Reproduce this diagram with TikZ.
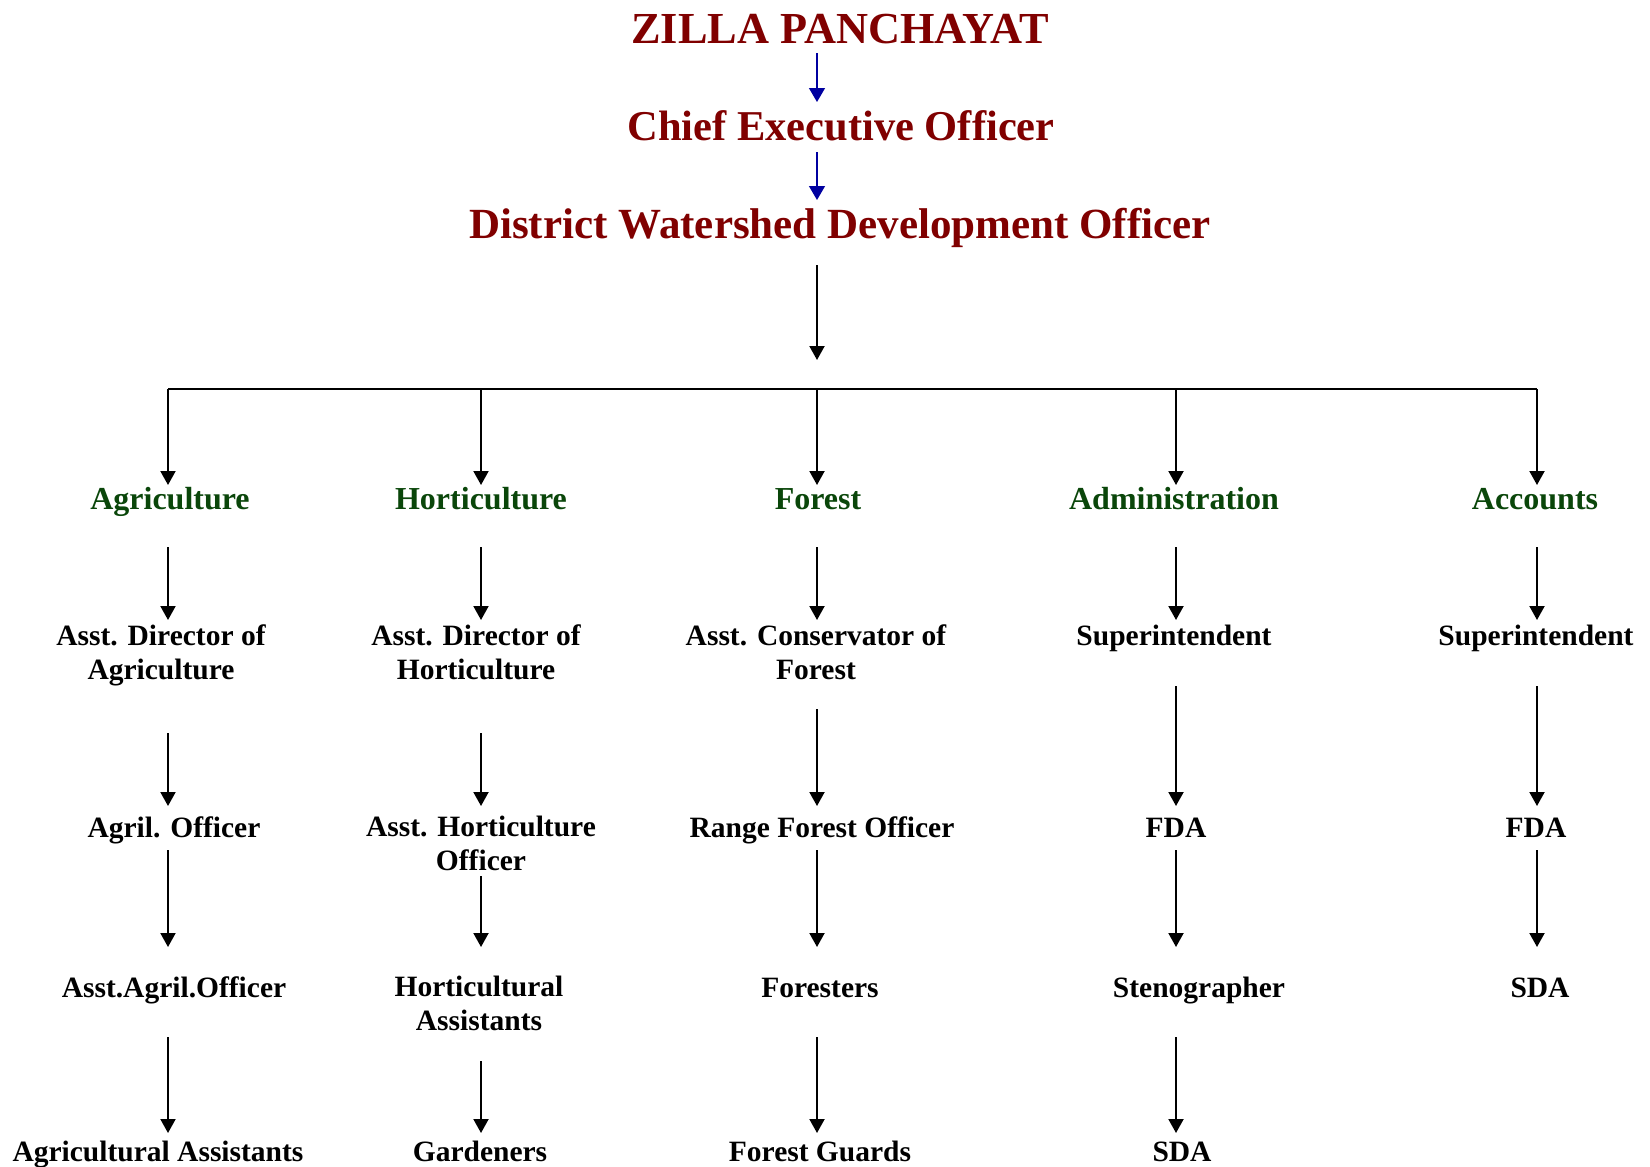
\documentclass[tikz,border=0pt]{standalone}
\usepackage{fontspec}
\setmainfont{Liberation Serif}
\usetikzlibrary{arrows.meta}
\definecolor{titlered}{RGB}{128,0,0}
\definecolor{headgreen}{RGB}{10,70,10}
\definecolor{arrowblue}{RGB}{0,0,160}
\begin{document}
\begin{tikzpicture}[x=1pt,y=-1pt,
	title/.style={anchor=base,inner sep=0,text=titlered,font=\fontsize{#1}{50}\selectfont\bfseries},
	title/.default=43,
	head/.style={anchor=base,inner sep=0,text=headgreen,font=\fontsize{32}{36}\selectfont\bfseries},
	post/.style={anchor=base,inner sep=0,align=center,font=\fontsize{29.5}{34}\selectfont\bfseries},
	arr/.style={line width=2pt,-{Triangle[width=15pt,length=14pt]}},
	bluearr/.style={arrowblue,line width=1.4pt,-{Triangle[width=16pt,length=14pt]}}]
	\useasboundingbox (0,0) rectangle (1650,1167);

	\coordinate (bA) at (168,389);
	\coordinate (bB) at (481,389);
	\coordinate (bC) at (817,389);
	\coordinate (bD) at (1176,389);
	\coordinate (bE) at (1537,389);

	\node[title=44.3] (zp) at (840,43) {ZILLA PANCHAYAT};
	\node[title=42.5] (ceo) at (841,140) {Chief Executive Officer};
	\node[title] (dwdo) at (840,238) {District Watershed Development Officer};
	\draw[bluearr, shorten <=10pt, shorten >=38pt] (bC |- zp.base) -- (bC |- ceo.base);
	\draw[bluearr, shorten <=12pt, shorten >=38pt] (bC |- ceo.base) -- (bC |- dwdo.base);

	\draw[arr, shorten <=27pt, shorten >=29pt] (bC |- dwdo.base) -- (bC);
	\draw[line width=2pt] (bA) -- (bE);%Querbalken

	% Abteilungen
	\node[head] (agri) at (170,509) {Agriculture};
	\node[head] (horti) at (481,509) {Horticulture};
	\node[head] (forest) at (818,509) {Forest};
	\node[head] (admin) at (1174,509) {Administration};
	\node[head] (accts) at (1535,509) {Accounts};
	\foreach \c/\n in {bA/agri,bB/horti,bC/forest,bD/admin,bE/accts}
		\draw[arr, shorten >=24pt] (\c) -- (\c |- \n.base);

	% Stellen (base = letzte Zeile)
	\node[post] (adA) at (161,679) {Asst. Director of\\Agriculture};
	\node[post] (aoA) at (174,837) {Agril. Officer};
	\node[post] (aaoA) at (174,997) {Asst.Agril.Officer};
	\node[post] (agaA) at (158,1161) {Agricultural Assistants};

	\node[post] (adB) at (476,679) {Asst. Director of\\Horticulture};
	\node[post] (ahoB) at (481,870) {Asst. Horticulture\\Officer};
	\node[post] (haB) at (479,1030) {Horticultural\\Assistants};
	\node[post] (garB) at (480,1161) {Gardeners};

	\node[post] (acC) at (816,679) {Asst. Conservator of\\Forest};
	\node[post] (rfoC) at (822,837) {Range Forest Officer};
	\node[post] (fstC) at (820,997) {Foresters};
	\node[post] (fgC) at (820,1161) {Forest Guards};

	\node[post] (supD) at (1174,645) {Superintendent};
	\node[post] (fdaD) at (1176,837) {FDA};
	\node[post] (stnD) at (1199,997) {Stenographer};
	\node[post] (sdaD) at (1182,1161) {SDA};

	\node[post] (supE) at (1536,645) {Superintendent};
	\node[post] (fdaE) at (1536,837) {FDA};
	\node[post] (sdaE) at (1540,997) {SDA};

	% Pfeile Spalte A
	\draw[arr, shorten <=38pt, shorten >=59pt] (bA |- agri.base) -- (bA |- adA.base);
	\draw[arr, shorten <=54pt, shorten >=31pt] (bA |- adA.base) -- (bA |- aoA.base);
	\draw[arr, shorten <=13pt, shorten >=50pt] (bA |- aoA.base) -- (bA |- aaoA.base);
	\draw[arr, shorten <=40pt, shorten >=28pt] (bA |- aaoA.base) -- (bA |- agaA.base);
	% Spalte B
	\draw[arr, shorten <=38pt, shorten >=59pt] (bB |- horti.base) -- (bB |- adB.base);
	\draw[arr, shorten <=54pt, shorten >=64pt] (bB |- adB.base) -- (bB |- ahoB.base);
	\draw[arr, shorten <=6pt, shorten >=83pt] (bB |- ahoB.base) -- (bB |- haB.base);
	\draw[arr, shorten <=31pt, shorten >=28pt] (bB |- haB.base) -- (bB |- garB.base);
	% Spalte C
	\draw[arr, shorten <=38pt, shorten >=59pt] (bC |- forest.base) -- (bC |- acC.base);
	\draw[arr, shorten <=30pt, shorten >=31pt] (bC |- acC.base) -- (bC |- rfoC.base);
	\draw[arr, shorten <=13pt, shorten >=50pt] (bC |- rfoC.base) -- (bC |- fstC.base);
	\draw[arr, shorten <=40pt, shorten >=28pt] (bC |- fstC.base) -- (bC |- fgC.base);
	% Spalte D
	\draw[arr, shorten <=38pt, shorten >=25pt] (bD |- admin.base) -- (bD |- supD.base);
	\draw[arr, shorten <=41pt, shorten >=31pt] (bD |- supD.base) -- (bD |- fdaD.base);
	\draw[arr, shorten <=13pt, shorten >=50pt] (bD |- fdaD.base) -- (bD |- stnD.base);
	\draw[arr, shorten <=40pt, shorten >=28pt] (bD |- stnD.base) -- (bD |- sdaD.base);
	% Spalte E
	\draw[arr, shorten <=38pt, shorten >=25pt] (bE |- accts.base) -- (bE |- supE.base);
	\draw[arr, shorten <=41pt, shorten >=31pt] (bE |- supE.base) -- (bE |- fdaE.base);
	\draw[arr, shorten <=13pt, shorten >=50pt] (bE |- fdaE.base) -- (bE |- sdaE.base);
\end{tikzpicture}
\end{document}
